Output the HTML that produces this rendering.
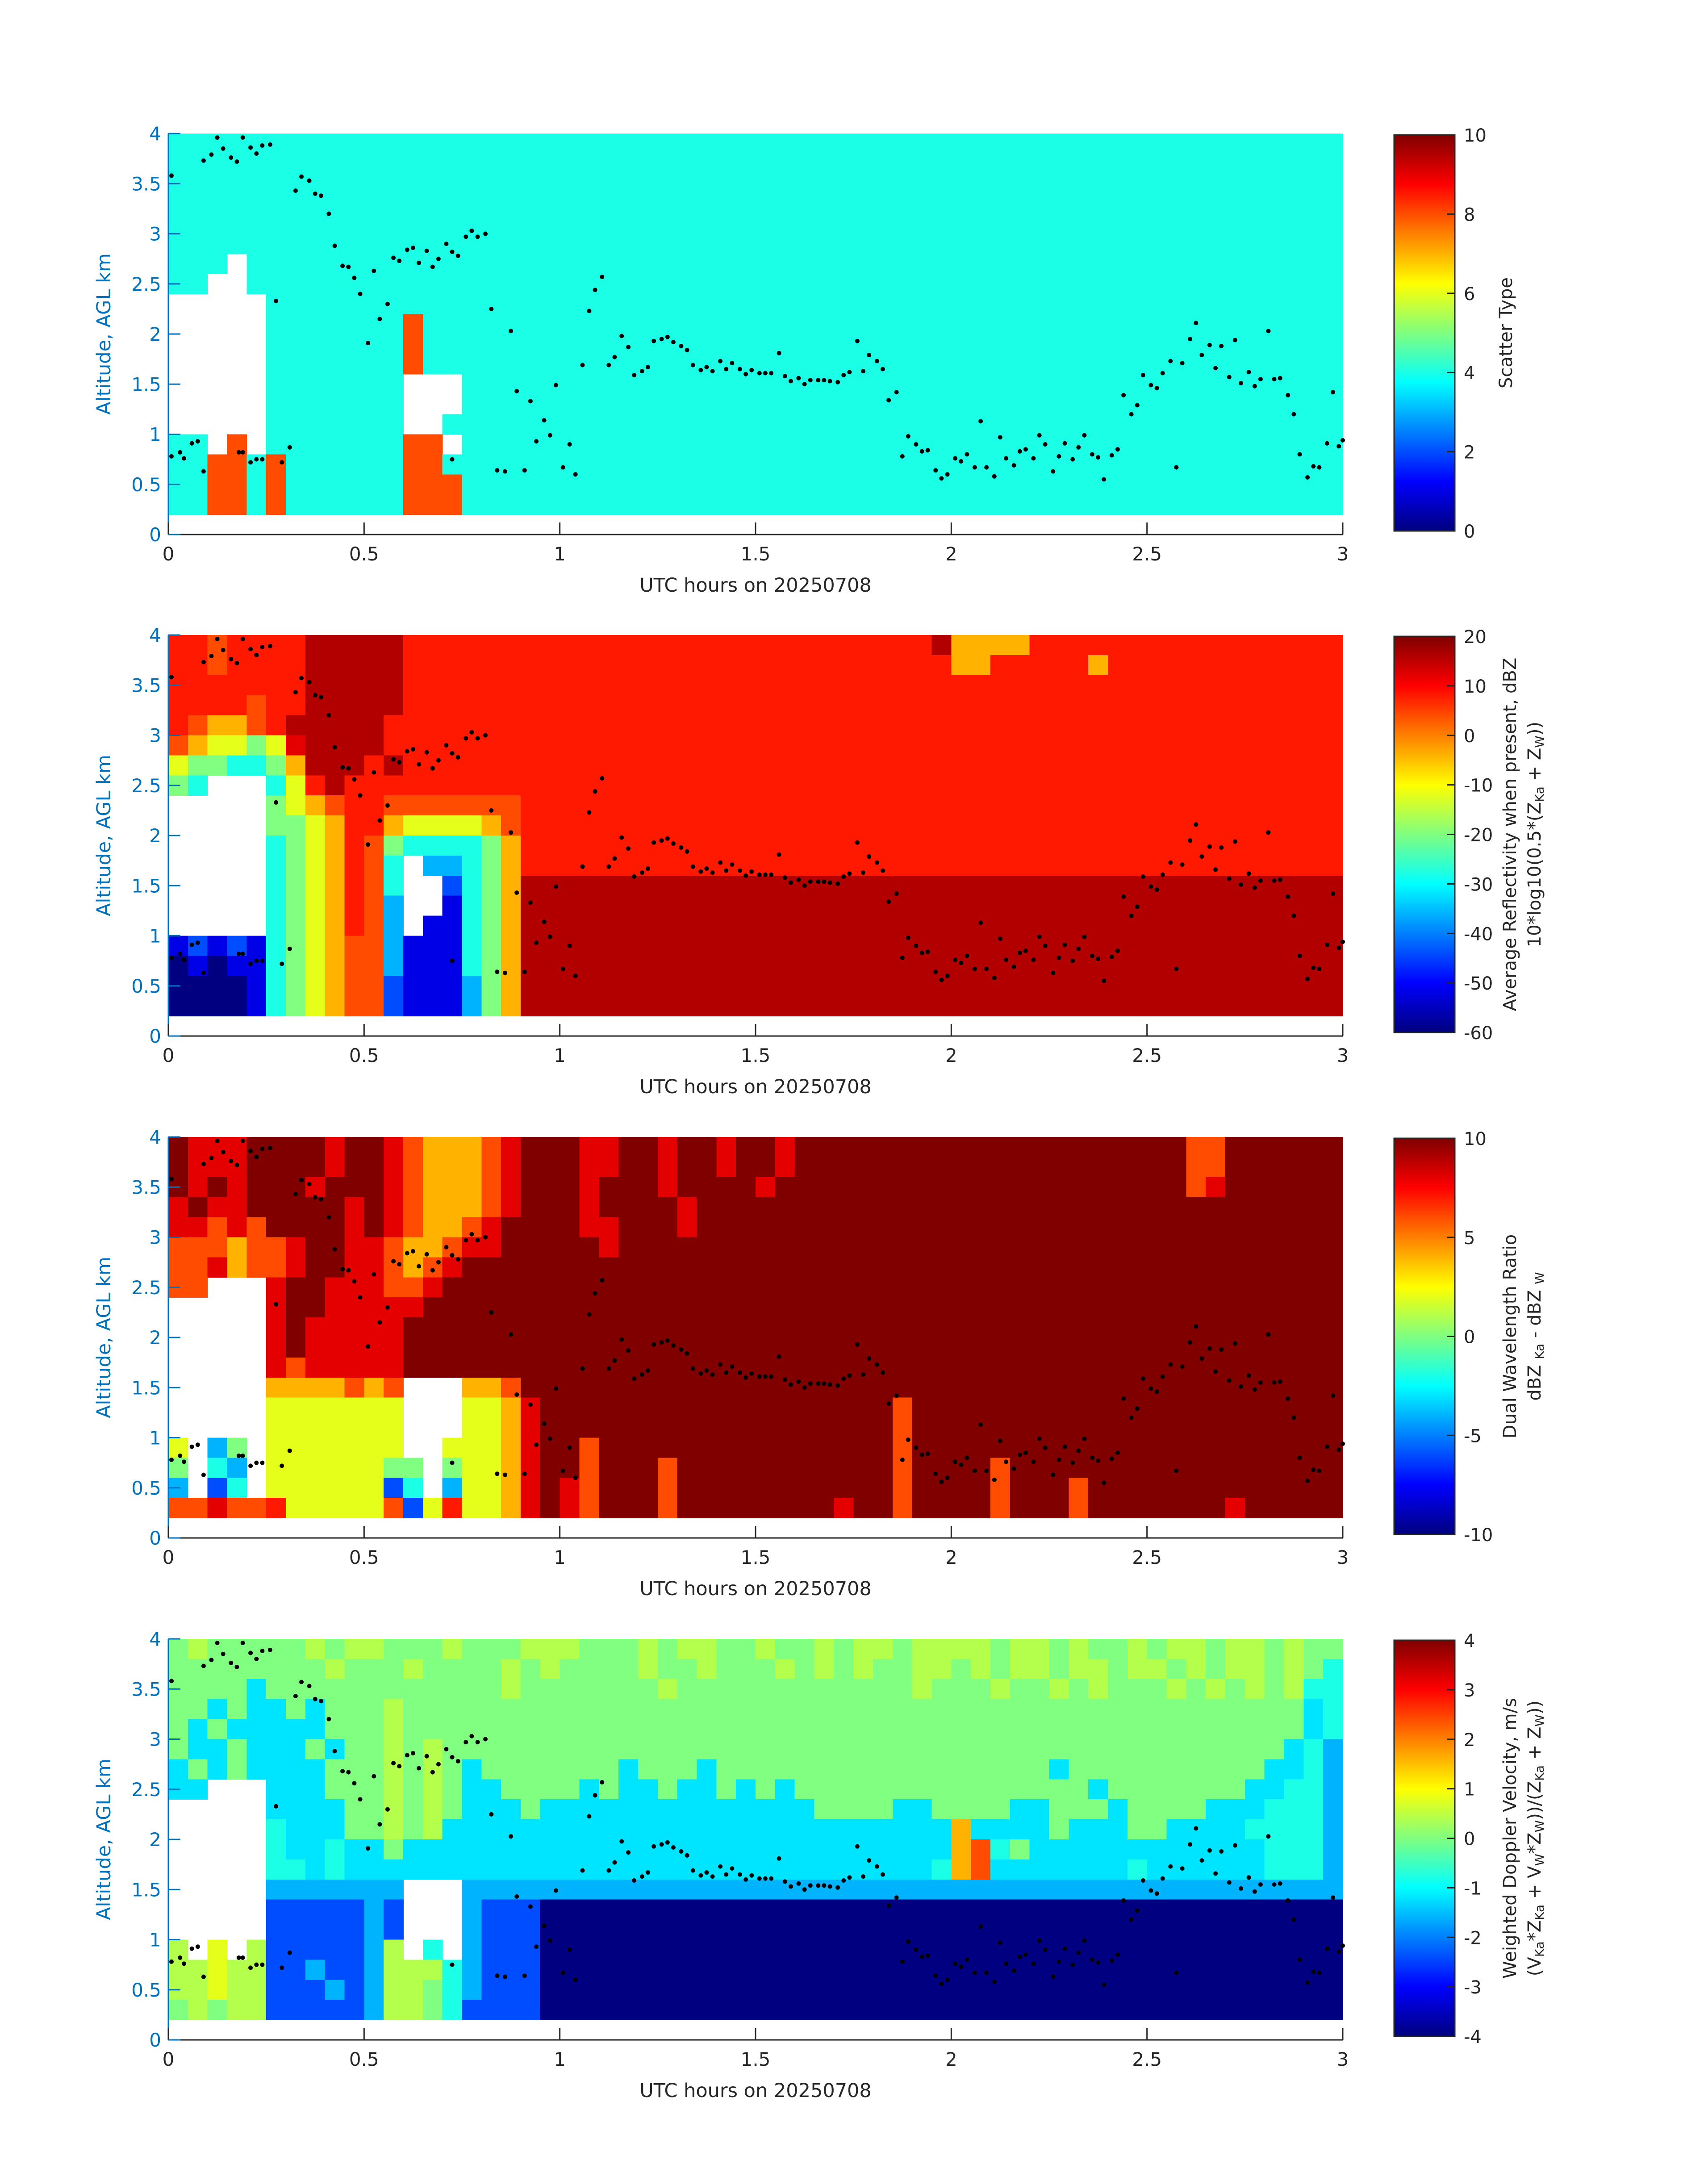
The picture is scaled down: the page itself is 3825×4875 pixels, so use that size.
<!DOCTYPE html>
<html><head><meta charset="utf-8"><style>
html,body{margin:0;padding:0;background:#fff;}
svg{display:block;font-family:"DejaVu Sans","Liberation Sans",sans-serif;}
</style></head><body>
<svg id="fig" xmlns="http://www.w3.org/2000/svg" width="3825" height="4875" viewBox="0 0 3825 4875">
<rect width="3825" height="4875" fill="#fff"/>
</svg>
<script>
// ---- data ----
const TIME_RANGE = [0, 3];
const ALT_RANGE = [0, 4];
const GRID_T0 = 0, GRID_DT = 0.05;      // hours per column
const GRID_Z0 = 0.2, GRID_DZ = 0.2;     // km per row (bottom 0.2 km)
const X_TICKS = [0, 0.5, 1, 1.5, 2, 2.5, 3];
const X_TICK_LABELS = ["0", "0.5", "1", "1.5", "2", "2.5", "3"];
const Y_TICKS = [0, 0.5, 1, 1.5, 2, 2.5, 3, 3.5, 4];
const Y_TICK_LABELS = ["0", "0.5", "1", "1.5", "2", "2.5", "3", "3.5", "4"];
// rows top(3.8-4.0 km) -> bottom(0.2-0.4 km); chars: 0-9 => level/10, A => 1, a-j => 0.05+idx/10, . => no data
const P1_ROWS = [
"4444444444|4444444444|4444444444|4444444444|4444444444|4444444444",
"4444444444|4444444444|4444444444|4444444444|4444444444|4444444444",
"4444444444|4444444444|4444444444|4444444444|4444444444|4444444444",
"4444444444|4444444444|4444444444|4444444444|4444444444|4444444444",
"4444444444|4444444444|4444444444|4444444444|4444444444|4444444444",
"4444444444|4444444444|4444444444|4444444444|4444444444|4444444444",
"444.444444|4444444444|4444444444|4444444444|4444444444|4444444444",
"44..444444|4444444444|4444444444|4444444444|4444444444|4444444444",
".....44444|4444444444|4444444444|4444444444|4444444444|4444444444",
".....44444|4484444444|4444444444|4444444444|4444444444|4444444444",
".....44444|4484444444|4444444444|4444444444|4444444444|4444444444",
".....44444|4484444444|4444444444|4444444444|4444444444|4444444444",
".....44444|44...44444|4444444444|4444444444|4444444444|4444444444",
".....44444|44...44444|4444444444|4444444444|4444444444|4444444444",
".....44444|44..444444|4444444444|4444444444|4444444444|4444444444",
"44.8.44444|4488.44444|4444444444|4444444444|4444444444|4444444444",
"4488484444|4488444444|4444444444|4444444444|4444444444|4444444444",
"4488484444|4488844444|4444444444|4444444444|4444444444|4444444444",
"4488484444|4488844444|4444444444|4444444444|4444444444|4444444444"];
const P2_ROWS = [
"ii8iiiijjj|jjiiiiiiii|iiiiiiiiii|iiiiiiiiij|7777iiiiii|iiiiiiiiii",
"ii8iiiijjj|jjiiiiiiii|iiiiiiiiii|iiiiiiiiii|77iiiii7ii|iiiiiiiiii",
"iiiiiiijjj|jjiiiiiiii|iiiiiiiiii|iiiiiiiiii|iiiiiiiiii|iiiiiiiiii",
"iiii8iijjj|jjiiiiiiii|iiiiiiiiii|iiiiiiiiii|iiiiiiiiii|iiiiiiiiii",
"i8778ijjjj|jiiiiiiiii|iiiiiiiiii|iiiiiiiiii|iiiiiiiiii|iiiiiiiiii",
"8766569jjj|jiiiiiiiii|iiiiiiiiii|iiiiiiiiii|iiiiiiiiii|iiiiiiiiii",
"6554457jjj|ijiiiiiiii|iiiiiiiiii|iiiiiiiiii|iiiiiiiiii|iiiiiiiiii",
"54...46iji|iiiiiiiiii|iiiiiiiiii|iiiiiiiiii|iiiiiiiiii|iiiiiiiiii",
".....5678i|i8888888ii|iiiiiiiiii|iiiiiiiiii|iiiiiiiiii|iiiiiiiiii",
".....5567i|i7666678ii|iiiiiiiiii|iiiiiiiiii|iiiiiiiiii|iiiiiiiiii",
".....4567i|85444457ii|iiiiiiiiii|iiiiiiiiii|iiiiiiiiii|iiiiiiiiii",
".....4567i|84.33457ii|iiiiiiiiii|iiiiiiiiii|iiiiiiiiii|iiiiiiiiii",
".....4567i|84..2457jj|jjjjjjjjjj|jjjjjjjjjj|jjjjjjjjjj|jjjjjjjjjj",
".....4567i|83..1457jj|jjjjjjjjjj|jjjjjjjjjj|jjjjjjjjjj|jjjjjjjjjj",
".....4567i|83.11457jj|jjjjjjjjjj|jjjjjjjjjj|jjjjjjjjjj|jjjjjjjjjj",
"1212145678|83111457jj|jjjjjjjjjj|jjjjjjjjjj|jjjjjjjjjj|jjjjjjjjjj",
"0101145678|83111457jj|jjjjjjjjjj|jjjjjjjjjj|jjjjjjjjjj|jjjjjjjjjj",
"0000145678|82111357jj|jjjjjjjjjj|jjjjjjjjjj|jjjjjjjjjj|jjjjjjjjjj",
"0000145678|82111357jj|jjjjjjjjjj|jjjjjjjjjj|jjjjjjjjjj|jjjjjjjjjj"];
const P3_ROWS = [
"A999AAAA9A|A9877789AA|A99AA9AA9A|A9AAAAAAAA|AAAAAAAAAA|AA88AAAAAA",
"A999AAAA9A|A9877789AA|A99AA9AA9A|A9AAAAAAAA|AAAAAAAAAA|AA88AAAAAA",
"A9A9AAA9AA|A9877789AA|A9AAA9AAAA|9AAAAAAAAA|AAAAAAAAAA|AA89AAAAAA",
"9A99AAAAA9|A9877789AA|A9AAAA9AAA|AAAAAAAAAA|AAAAAAAAAA|AAAAAAAAAA",
"99898AAAA9|A987789AAA|A99AAA9AAA|AAAAAAAAAA|AAAAAAAAAA|AAAAAAAAAA",
"8887889AA9|9877899AAA|AA9AAAAAAA|AAAAAAAAAA|AAAAAAAAAA|AAAAAAAAAA",
"8897889AA9|98789AAAAA|AAAAAAAAAA|AAAAAAAAAA|AAAAAAAAAA|AAAAAAAAAA",
"88...9AA99|9889AAAAAA|AAAAAAAAAA|AAAAAAAAAA|AAAAAAAAAA|AAAAAAAAAA",
".....9AA99|999AAAAAAA|AAAAAAAAAA|AAAAAAAAAA|AAAAAAAAAA|AAAAAAAAAA",
".....9A999|99AAAAAAAA|AAAAAAAAAA|AAAAAAAAAA|AAAAAAAAAA|AAAAAAAAAA",
".....9A999|99AAAAAAAA|AAAAAAAAAA|AAAAAAAAAA|AAAAAAAAAA|AAAAAAAAAA",
".....98999|99AAAAAAAA|AAAAAAAAAA|AAAAAAAAAA|AAAAAAAAAA|AAAAAAAAAA",
".....77778|78...778AA|AAAAAAAAAA|AAAAAAAAAA|AAAAAAAAAA|AAAAAAAAAA",
".....66666|66...6679A|AAAAAAAAAA|AAAAAAA8AA|AAAAAAAAAA|AAAAAAAAAA",
".....66666|66...6679A|AAAAAAAAAA|AAAAAAA8AA|AAAAAAAAAA|AAAAAAAAAA",
"6.35.66666|66..66679A|A8AAAAAAAA|AAAAAAA8AA|AAAAAAAAAA|AAAAAAAAAA",
"5.43.66666|655.56679A|A8AAA8AAAA|AAAAAAA8AA|AA8AAAAAAA|AAAAAAAAAA",
"3.24.66666|624.36679A|98AAA8AAAA|AAAAAAA8AA|AA8AAA8AAA|AAAAAAAAAA",
"88988i6666|6826i6679A|98AAA8AAAA|AAAA9AA8AA|AA8AAA8AAA|AAAA9AAAAA"];
const P4_ROWS = [
"5f55555f5f|f555f555ff|f555f5ff55|f55f5ff5ff|ff5ff5f55f|5ff5ff5f55",
"55555555f5|55f5555f5f|5555f55f55|5f5f5f55ff|5f5ff5ff5f|f5f5ff5f54",
"5555d55555|5555555f55|55555f5555|55555555f5|55f55f5f55|5f5f5f5f44",
"55d5dd5d55|5f55555555|5555555555|5555555555|5555555555|55555555d4",
"5d5ddddd55|5f55555555|5555555555|5555555555|5555555555|55555555d4",
"5dd5ddd5d5|5f5f555555|5555555555|5555555555|5555555555|5555555d43",
"d5d5dddd55|5f5f5d5555|555d555d55|5555555555|55555d5555|555555dd43",
"dd...ddd55|5f5f5dd555|5d5dd5dd5d|5d55555555|5555555d55|55555dd443",
".....dddd5|5f5f5ddd5d|dddddddddd|ddd5555dd5|555dd555d5|555ddd4443",
".....4ddd5|5f5fdddddd|dddddddddd|dddddddddd|7dddd5ddd5|5dddd44443",
".....4dd4d|d5dddddddd|dddddddddd|dddddddddd|7845dddddd|dddddd4443",
".....44d4d|dddddddddd|dddddddddd|ddddddddd4|78ddddddd4|dddddd4443",
".....33333|33...33333|3333333333|3333333333|3333333333|3333333333",
".....22222|32...32220|0000000000|0000000000|0000000000|0000000000",
".....22222|32...32220|0000000000|0000000000|0000000000|0000000000",
"f.6.f22222|3f.4.32220|0000000000|0000000000|0000000000|0000000000",
"ff6ff22322|3fff432220|0000000000|0000000000|0000000000|0000000000",
"ff6ff22232|3ff5432220|0000000000|0000000000|0000000000|0000000000",
"5f5ff22222|3ff5422220|0000000000|0000000000|0000000000|0000000000"];
// overlay points: time (h) and altitude (km)
const DOT_T = [0.008,0.008,0.03,0.04,0.06,0.075,0.09,0.09,0.11,0.125,0.14,0.16,0.175,0.19,0.18,0.19,0.21,0.21,0.225,0.225,0.24,0.24,0.26,0.275,0.29,0.31,0.325,0.34,0.36,0.375,0.39,0.41,0.425,0.445,0.46,0.475,0.49,0.51,0.525,0.54,0.56,0.575,0.59,0.61,0.625,0.64,0.66,0.675,0.69,0.71,0.725,0.725,0.74,0.76,0.775,0.79,0.81,0.825,0.84,0.86,0.875,0.89,0.91,0.925,0.94,0.96,0.975,0.99,1.008,1.025,1.04,1.058,1.075,1.09,1.108,1.125,1.14,1.158,1.175,1.19,1.21,1.225,1.24,1.26,1.275,1.29,1.31,1.325,1.34,1.36,1.375,1.39,1.41,1.425,1.44,1.46,1.475,1.49,1.51,1.525,1.54,1.56,1.575,1.59,1.61,1.625,1.64,1.66,1.675,1.69,1.71,1.725,1.74,1.76,1.775,1.79,1.81,1.825,1.84,1.86,1.875,1.89,1.91,1.925,1.94,1.96,1.975,1.99,2.01,2.025,2.04,2.06,2.075,2.09,2.11,2.125,2.14,2.16,2.175,2.19,2.21,2.225,2.24,2.26,2.275,2.29,2.31,2.325,2.34,2.36,2.375,2.39,2.41,2.425,2.44,2.46,2.475,2.49,2.51,2.525,2.54,2.56,2.575,2.59,2.61,2.625,2.64,2.66,2.675,2.69,2.71,2.725,2.74,2.76,2.775,2.79,2.81,2.825,2.84,2.86,2.875,2.89,2.91,2.925,2.94,2.96,2.975,2.99,3.0];
const DOT_Z = [3.58,0.78,0.82,0.76,0.91,0.93,3.73,0.63,3.79,3.96,3.85,3.76,3.72,3.96,0.82,0.82,3.86,0.72,3.8,0.75,3.88,0.75,3.89,2.33,0.72,0.87,3.43,3.57,3.53,3.4,3.38,3.2,2.88,2.68,2.67,2.56,2.4,1.91,2.63,2.15,2.3,2.76,2.73,2.84,2.86,2.71,2.83,2.67,2.75,2.9,2.82,0.75,2.78,2.97,3.03,2.97,3.0,2.25,0.64,0.63,2.03,1.43,0.64,1.33,0.93,1.14,0.99,1.49,0.67,0.9,0.6,1.69,2.23,2.44,2.57,1.69,1.77,1.98,1.87,1.59,1.63,1.67,1.93,1.95,1.97,1.92,1.88,1.84,1.69,1.64,1.67,1.63,1.73,1.65,1.71,1.65,1.6,1.64,1.61,1.61,1.61,1.81,1.58,1.53,1.56,1.5,1.54,1.54,1.54,1.53,1.52,1.59,1.62,1.93,1.63,1.79,1.73,1.65,1.34,1.42,0.78,0.98,0.9,0.83,0.84,0.64,0.56,0.6,0.76,0.73,0.8,0.67,1.13,0.67,0.58,0.97,0.76,0.69,0.83,0.85,0.76,0.99,0.9,0.63,0.78,0.91,0.75,0.87,0.99,0.8,0.77,0.55,0.79,0.85,1.39,1.2,1.29,1.59,1.49,1.46,1.61,1.73,0.67,1.71,1.95,2.11,1.79,1.89,1.66,1.88,1.57,1.94,1.51,1.62,1.48,1.55,2.03,1.55,1.56,1.39,1.2,0.8,0.57,0.68,0.67,0.91,1.42,0.88,0.94];
const CB1_TICKS = [0,2,4,6,8,10];
const CB2_TICKS = [-60,-50,-40,-30,-20,-10,0,10,20];
const CB3_TICKS = [-10,-5,0,5,10];
const CB4_TICKS = [-4,-3,-2,-1,0,1,2,3,4];

// ---- layout ----
const NS = "http://www.w3.org/2000/svg";
const svg = document.getElementById('fig');
const AX_L = 377, AX_R = 3007, AX_H = 898;
const PANEL_TOPS = [299, 1422, 2546, 3670];
const CB_X = 3122, CB_W = 136;
const BLUE = "#0072bd", DARK = "#262626";

function mk(tag, attrs, parent) {
  const e = document.createElementNS(NS, tag);
  for (const k in attrs) e.setAttribute(k, attrs[k]);
  (parent || svg).appendChild(e);
  return e;
}
function jet(x) {
  x = Math.max(0, Math.min(1, x));
  const c = v => Math.round(255 * Math.max(0, Math.min(1, v)));
  return `rgb(${c(1.5 - Math.abs(4*x - 3))},${c(1.5 - Math.abs(4*x - 2))},${c(1.5 - Math.abs(4*x - 1))})`;
}
function level(ch) {
  if (ch === '.') return null;
  if (ch === 'A') return 1;
  if (ch >= '0' && ch <= '9') return (+ch) / 10;
  return 0.05 + (ch.charCodeAt(0) - 97) / 10;
}

const defs = mk('defs', {});
const grad = mk('linearGradient', {id: 'jetgrad', x1: 0, y1: 1, x2: 0, y2: 0}, defs);
for (let i = 0; i <= 64; i++) mk('stop', {offset: (i/64).toFixed(4), 'stop-color': jet(i/64)}, grad);

const PANELS = [
  {rows: P1_ROWS, ticks: CB1_TICKS, name: 'scatter-type', titles: [['Scatter Type']]},
  {rows: P2_ROWS, ticks: CB2_TICKS, name: 'reflectivity', titles: [
     ['Average Reflectivity when present, dBZ'],
     ['10*log10(0.5*(Z', ['Ka'], ' + Z', ['W'], '))']]},
  {rows: P3_ROWS, ticks: CB3_TICKS, name: 'dual-wavelength-ratio', titles: [
     ['Dual Wavelength Ratio'],
     ['dBZ ', ['Ka'], ' - dBZ ', ['W']]]},
  {rows: P4_ROWS, ticks: CB4_TICKS, name: 'doppler-velocity', titles: [
     ['Weighted Doppler Velocity, m/s'],
     ['(V', ['Ka'], '*Z', ['Ka'], ' + V', ['W'], '*Z', ['W'], '))/(Z', ['Ka'], ' + Z', ['W'], '))']]}
];

PANELS.forEach((P, pi) => {
  const top = PANEL_TOPS[pi], bot = top + AX_H;
  const xs = t => AX_L + (t - TIME_RANGE[0]) / (TIME_RANGE[1] - TIME_RANGE[0]) * (AX_R - AX_L);
  const ys = z => bot - (z - ALT_RANGE[0]) / (ALT_RANGE[1] - ALT_RANGE[0]) * AX_H;
  const g = mk('g', {});
  
  

  const hm = mk('g', {'shape-rendering': 'crispEdges'}, g);
  
  
  const nR = P.rows.length;
  P.rows.forEach((rowStr, ri) => {
    const s = rowStr.replace(/\|/g, '');
    const z0 = GRID_Z0 + (nR - 1 - ri) * GRID_DZ, z1 = Math.min(z0 + GRID_DZ, ALT_RANGE[1]);
    for (let k = 0; k < s.length; k++) {
      const v = level(s[k]);
      if (v === null) continue;
      const t0 = GRID_T0 + k * GRID_DT, t1 = t0 + GRID_DT;
      const x0 = xs(t0), x1 = Math.min(xs(t1), AX_R);
      const r = mk('rect', {x: x0.toFixed(1), y: ys(z1).toFixed(1), width: (x1 - x0 + 0.8).toFixed(1), height: (ys(z0) - ys(z1) + 0.8).toFixed(1), fill: jet(v)}, hm);
      
      
    }
  });

  const dg = mk('g', {}, g);
  
  
  DOT_T.forEach((t, i) => {
    const c = mk('circle', {cx: xs(t).toFixed(1), cy: ys(DOT_Z[i]).toFixed(1), r: 5, fill: '#000'}, dg);
    
    
  });

  const ax = mk('g', {}, g);
  
  
  mk('line', {x1: AX_L, y1: bot, x2: AX_R, y2: bot, stroke: DARK, 'stroke-width': 3}, ax);
  mk('line', {x1: AX_L, y1: top, x2: AX_L, y2: bot, stroke: BLUE, 'stroke-width': 3}, ax);
  X_TICKS.forEach((t, i) => {
    mk('line', {x1: xs(t), y1: bot, x2: xs(t), y2: bot - 27, stroke: DARK, 'stroke-width': 3}, ax);
    const tx = mk('text', {x: xs(t), y: bot + 58, 'font-size': 42, fill: DARK, 'text-anchor': 'middle'}, ax);
    tx.textContent = X_TICK_LABELS[i];
    
    
  });
  Y_TICKS.forEach((z, i) => {
    mk('line', {x1: AX_L, y1: ys(z), x2: AX_L + 27, y2: ys(z), stroke: BLUE, 'stroke-width': 3}, ax);
    const ty = mk('text', {x: AX_L - 16, y: ys(z) + 15, 'font-size': 42, fill: BLUE, 'text-anchor': 'end'}, ax);
    ty.textContent = Y_TICK_LABELS[i];
    
    
  });
  const xl = mk('text', {x: (AX_L + AX_R) / 2, y: bot + 128, 'font-size': 43, fill: DARK, 'text-anchor': 'middle'}, ax);
  xl.textContent = 'UTC hours on 20250708';
  
  
  const ymid = (top + bot) / 2;
  const yl = mk('text', {x: 0, y: 0, 'font-size': 43, fill: BLUE, 'text-anchor': 'middle', 'dominant-baseline': 'central', transform: `translate(233,${ymid}) rotate(-90)`}, ax);
  yl.textContent = 'Altitude, AGL km';
  
  

  const cbTop = top + 3, cbBot = bot - 8;
  const cb = mk('g', {}, g);
  
  
  mk('rect', {x: CB_X, y: cbTop, width: CB_W, height: cbBot - cbTop, fill: 'url(#jetgrad)', stroke: DARK, 'stroke-width': 3}, cb);
  const tmin = P.ticks[0], tmax = P.ticks[P.ticks.length - 1];
  P.ticks.forEach(v => {
    const y = cbBot - (v - tmin) / (tmax - tmin) * (cbBot - cbTop);
    mk('line', {x1: CB_X + CB_W - 18, y1: y, x2: CB_X + CB_W, y2: y, stroke: DARK, 'stroke-width': 3}, cb);
    const t = mk('text', {x: CB_X + CB_W + 20, y: y + 15, 'font-size': 40, fill: DARK}, cb);
    t.textContent = String(v);
    
    
  });
  const cmid = (cbTop + cbBot) / 2;
  const nLines = P.titles.length;
  P.titles.forEach((parts, li) => {
    const cx = nLines === 1 ? 3373 : (li === 0 ? 3382 : 3437);
    const t = mk('text', {x: 0, y: 0, 'font-size': 40, fill: DARK, 'text-anchor': 'middle', 'dominant-baseline': 'central', transform: `translate(${cx},${cmid}) rotate(-90)`}, cb);
    
    
    let lowered = false;
    parts.forEach(p => {
      const ts = document.createElementNS(NS, 'tspan');
      if (Array.isArray(p)) {
        ts.textContent = p[0];
        ts.setAttribute('font-size', '28');
        if (!lowered) { ts.setAttribute('dy', '10'); lowered = true; }
      } else {
        ts.textContent = p;
        if (lowered) { ts.setAttribute('dy', '-10'); lowered = false; }
      }
      t.appendChild(ts);
    });
  });
});
</script>
</body></html>
